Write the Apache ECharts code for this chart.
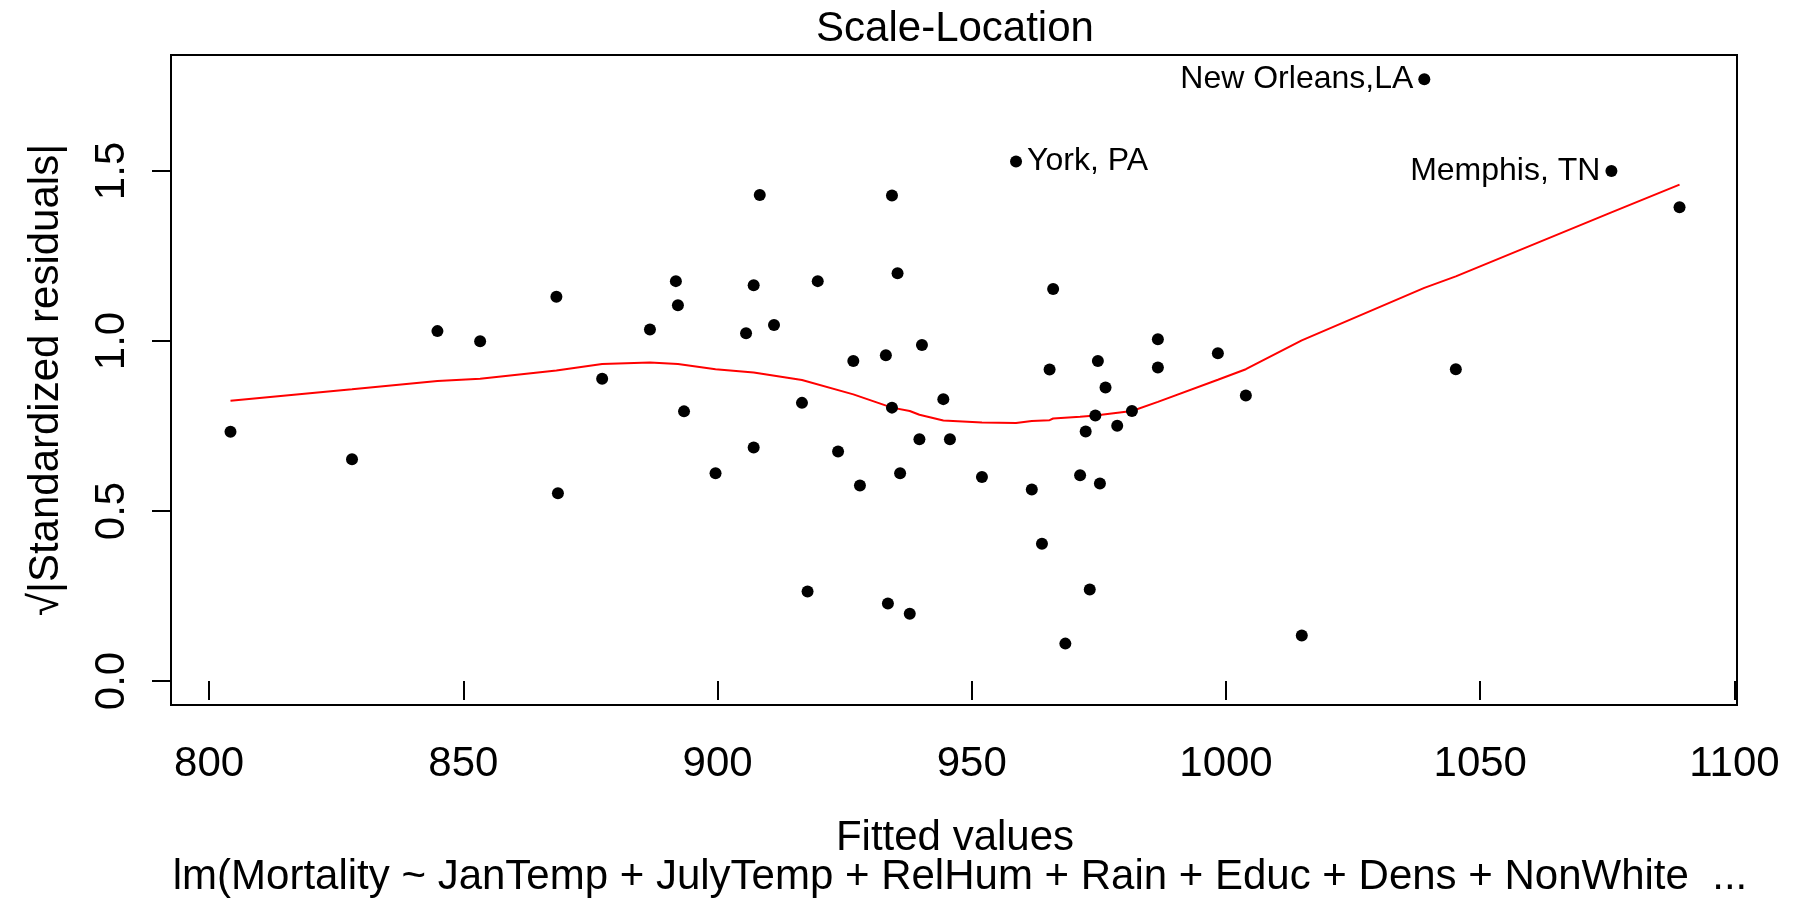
<!DOCTYPE html>
<html>
<head>
<meta charset="utf-8">
<title>Scale-Location</title>
<script src="https://cdn.jsdelivr.net/npm/echarts@6/dist/echarts.min.js"></script>
<style>
  html, body { margin: 0; padding: 0; background: #ffffff; }
  #chart { width: 1798px; height: 899px; }
</style>
</head>
<body>
<div id="chart"></div>
<script>
// Fitted values of the mortality model, one per city
const fittedValues = [
  804.2, 828.1, 844.9, 853.3, 868.3, 868.6, 877.3, 886.7, 891.8, 892.2,
  893.4, 899.6, 905.6, 907.1, 907.1, 908.3, 911.1, 916.6, 917.7, 919.7,
  923.7, 926.7, 928.0, 933.1, 933.5, 934.3, 934.3, 935.4, 935.9, 937.8,
  939.7, 940.2, 944.4, 945.7, 952.0, 958.7, 961.8, 963.8, 965.3, 966.0,
  968.4, 971.3, 972.4, 973.2, 974.3, 974.8, 975.2, 976.3, 978.6, 981.5,
  986.6, 986.6, 998.4, 1003.9, 1014.9, 1039.0, 1045.2, 1075.8, 1089.2
];

// sqrt(|standardized residual|) for the same cities
const sqrtAbsStdResid = [
  0.733, 0.652, 1.029, 0.999, 1.130, 0.552, 0.889, 1.034, 1.176, 1.105,
  0.793, 0.611, 1.023, 1.164, 0.687, 1.429, 1.047, 0.818, 0.263, 1.176,
  0.675, 0.941, 0.575, 0.958, 0.228, 1.428, 0.804, 1.199, 0.611, 0.198,
  0.711, 0.988, 0.829, 0.711, 0.600, 1.528, 0.563, 0.404, 0.916, 1.153,
  0.110, 0.605, 0.734, 0.269, 0.781, 0.941, 0.581, 0.863, 0.751, 0.794,
  1.005, 0.922, 0.964, 0.840, 0.134, 1.770, 0.917, 1.500, 1.393
];

// Smoother through the points
const smoothX = [
  804.2, 828.1, 844.9, 853.3, 868.3, 877.3, 886.7, 892.2, 899.6, 907.1,
  916.6, 926.7, 934.3, 937.8, 939.7, 944.4, 952.0, 958.7, 961.8, 965.3,
  966.0, 971.3, 974.3, 981.5, 986.6, 998.4, 1003.9, 1014.9, 1039.0, 1045.2,
  1075.8, 1089.2
];
const smoothY = [
  0.824, 0.858, 0.882, 0.889, 0.913, 0.932, 0.937, 0.932, 0.917, 0.907,
  0.885, 0.843, 0.804, 0.794, 0.783, 0.766, 0.760, 0.759, 0.765, 0.767,
  0.772, 0.777, 0.781, 0.794, 0.821, 0.886, 0.917, 1.002, 1.156, 1.190,
  1.378, 1.460
];

// Cities called out by name
const labelledCities = ['York, PA', 'New Orleans,LA', 'Memphis, TN'];
const labelledIndex = [35, 55, 57];
const labelledSide = ['right', 'left', 'left'];

// Axis ticks
const xTicks = [800, 850, 900, 950, 1000, 1050, 1100];
const yTicks = [0, 0.5, 1.0, 1.5];

const FONT = "'Liberation Sans', Arial, Helvetica, sans-serif";

const points = fittedValues.map(function (x, i) {
  const item = { value: [x, sqrtAbsStdResid[i]] };
  const k = labelledIndex.indexOf(i);
  if (k >= 0) {
    item.label = {
      show: true,
      formatter: labelledCities[k],
      position: labelledSide[k],
      distance: 5,
      color: '#000000',
      opacity: 1,
      fontSize: 32,
      fontFamily: FONT
    };
  }
  return item;
});

const smoothLine = smoothX.map(function (x, i) { return [x, smoothY[i]]; });

const chart = echarts.init(document.getElementById('chart'), null, { renderer: 'canvas' });

chart.setOption({
  animation: false,
  backgroundColor: '#ffffff',
  grid: {
    left: 171,
    right: 61,
    top: 55,
    bottom: 194,
    show: true,
    borderColor: '#000000',
    borderWidth: 2,
    backgroundColor: 'transparent'
  },
  xAxis: {
    type: 'value',
    min: 792.5,
    max: 1100.5,
    axisLine: { show: false },
    splitLine: { show: false },
    axisTick: {
      show: true,
      customValues: xTicks,
      length: 19,
      lineStyle: { color: '#000000', width: 2 }
    },
    axisLabel: {
      show: true,
      customValues: xTicks,
      margin: 38,
      color: '#000000',
      fontSize: 42,
      fontFamily: FONT,
      formatter: function (v) { return String(Math.round(v)); }
    }
  },
  yAxis: {
    type: 'value',
    min: -0.0705,
    max: 1.841,
    axisLine: { show: false },
    splitLine: { show: false },
    axisTick: {
      show: true,
      customValues: yTicks,
      length: 19,
      lineStyle: { color: '#000000', width: 2 }
    },
    axisLabel: {
      show: true,
      customValues: yTicks,
      rotate: 90,
      margin: 38,
      color: '#000000',
      fontSize: 42,
      fontFamily: FONT,
      formatter: function (v) { return Number(v).toFixed(1); }
    }
  },
  series: [
    {
      type: 'line',
      data: smoothLine,
      symbol: 'none',
      smooth: false,
      lineStyle: { color: '#ff0000', width: 2 },
      z: 2
    },
    {
      type: 'scatter',
      data: points,
      symbol: 'circle',
      symbolSize: 12,
      itemStyle: { color: '#000000', opacity: 1 },
      emphasis: { disabled: true },
      z: 3
    }
  ],
  graphic: [
    {
      type: 'text',
      x: 955,
      y: 29,
      style: {
        text: 'Scale-Location',
        fill: '#000000',
        fontSize: 42,
        fontFamily: FONT,
        align: 'center',
        verticalAlign: 'middle'
      }
    },
    {
      type: 'text',
      x: 955,
      y: 838,
      style: {
        text: 'Fitted values',
        fill: '#000000',
        fontSize: 42,
        fontFamily: FONT,
        align: 'center',
        verticalAlign: 'middle'
      }
    },
    {
      type: 'text',
      x: 960,
      y: 877,
      style: {
        text: 'lm(Mortality ~ JanTemp + JulyTemp + RelHum + Rain + Educ + Dens + NonWhite  ...',
        fill: '#000000',
        fontSize: 42,
        fontFamily: FONT,
        align: 'center',
        verticalAlign: 'middle'
      }
    },
    {
      type: 'text',
      x: 46,
      y: 380,
      rotation: Math.PI / 2,
      style: {
        text: '\u221A|Standardized residuals|',
        fill: '#000000',
        fontSize: 42,
        fontFamily: FONT,
        align: 'center',
        verticalAlign: 'middle'
      }
    }
  ]
});
</script>
</body>
</html>
